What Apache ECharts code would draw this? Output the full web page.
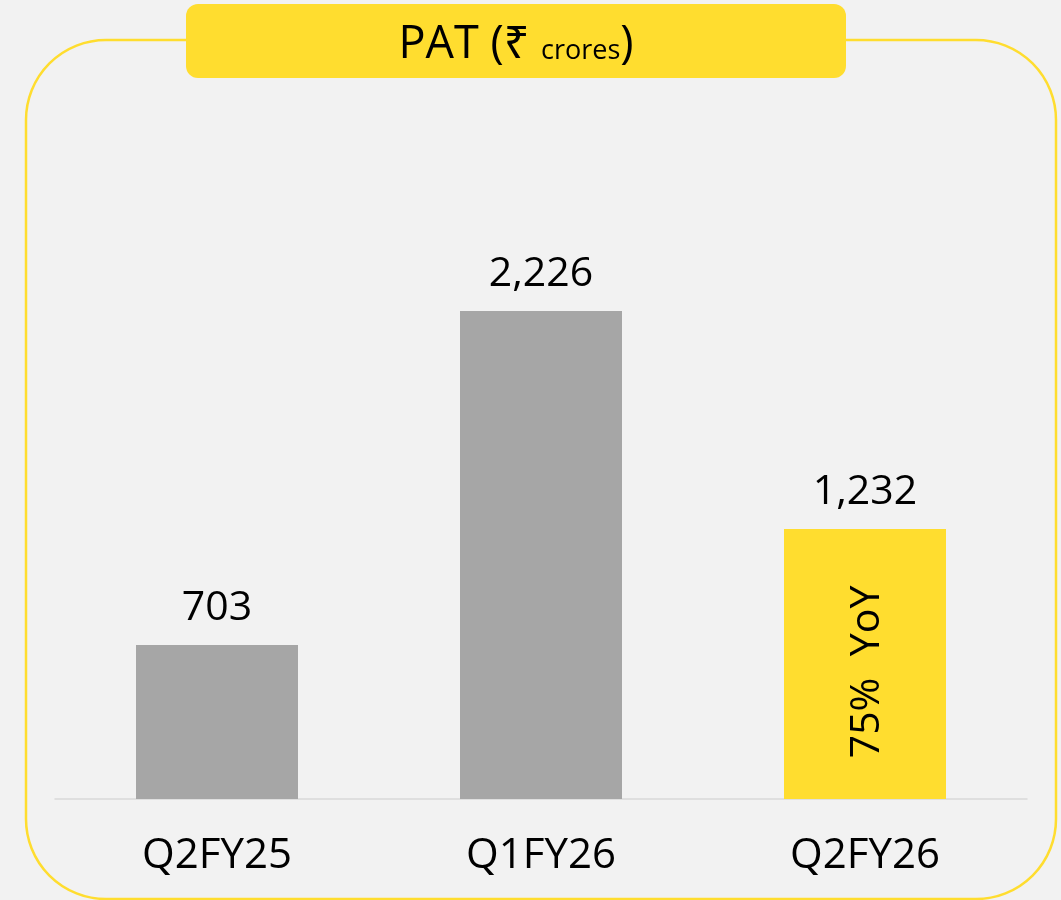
<!DOCTYPE html>
<html>
<head>
<meta charset="utf-8">
<title>PAT (₹ crores)</title>
<script src="https://cdn.jsdelivr.net/npm/echarts@6/dist/echarts.min.js"></script>
<style>
    html, body { margin: 0; padding: 0; background: #f2f2f2; }
    #chart { width: 1061px; height: 900px; }
</style>
</head>
<body>
<div id="chart"></div>
<script>
// Chart data
const categories = ['Q2FY25', 'Q1FY26', 'Q2FY26'];
const patValues = [703, 2226, 1232];
const highlightIndex = 2;            // Q2FY26 bar is yellow
const yoyNote = '75%  YoY';

// Colors
const COLORS = {
    bg: '#f2f2f2',
    yellow: '#ffdd2f',
    gray: '#a6a6a6',
    axis: '#d9d9d9',
    text: '#000000'
};
const FONT = '"Open Sans", "Noto Sans", "DejaVu Sans", sans-serif';

const chart = echarts.init(document.getElementById('chart'));

const option = {
    backgroundColor: COLORS.bg,
    animation: false,
    graphic: [
        // rounded yellow frame
        {
            type: 'rect',
            shape: { x: 26, y: 40, width: 1030, height: 859, r: 80 },
            style: { fill: 'none', stroke: COLORS.yellow, lineWidth: 2.5 },
            z: 0
        },
        // title box
        {
            type: 'rect',
            shape: { x: 186, y: 4, width: 660, height: 74, r: 12 },
            style: { fill: COLORS.yellow },
            z: 1
        },
        {
            type: 'text',
            x: 516,
            y: 45,
            style: {
                text: '{big|PAT (₹ }{small|crores}{big|)}',
                align: 'center',
                verticalAlign: 'middle',
                rich: {
                    big: { fontSize: 45, fontFamily: FONT, fill: COLORS.text },
                    small: { fontSize: 27, fontFamily: FONT, fill: COLORS.text, padding: [12, 0, 0, 0] }
                }
            },
            z: 2
        }
    ],
    grid: {
        left: 55,
        right: 34,
        top: 251,
        bottom: 101
    },
    xAxis: {
        type: 'category',
        data: categories,
        axisLine: { lineStyle: { color: COLORS.axis, width: 1.5 } },
        axisTick: { show: false },
        axisLabel: {
            color: COLORS.text,
            fontSize: 42,
            fontFamily: FONT,
            margin: 36
        }
    },
    yAxis: {
        type: 'value',
        min: 0,
        max: 2500,
        show: false,
        splitLine: { show: false }
    },
    series: [
        {
            type: 'bar',
            barWidth: 162,
            data: patValues.map((v, i) => ({
                value: v,
                itemStyle: { color: i === highlightIndex ? COLORS.yellow : COLORS.gray }
            })),
            label: {
                show: true,
                position: 'top',
                distance: 16,
                color: COLORS.text,
                fontSize: 41,
                fontFamily: FONT,
                formatter: p => p.value.toLocaleString('en-US')
            }
        },
        // overlay series only for the rotated YoY note inside the last bar
        {
            type: 'bar',
            barWidth: 162,
            barGap: '-100%',
            silent: true,
            itemStyle: { color: 'transparent' },
            data: patValues.map((v, i) => (i === highlightIndex ? v : '-')),
            label: {
                show: true,
                position: 'inside',
                rotate: 90,
                offset: [-8, 2],
                color: COLORS.text,
                fontSize: 41,
                fontFamily: FONT,
                formatter: () => yoyNote
            }
        }
    ]
};

chart.setOption(option);
</script>
</body>
</html>
